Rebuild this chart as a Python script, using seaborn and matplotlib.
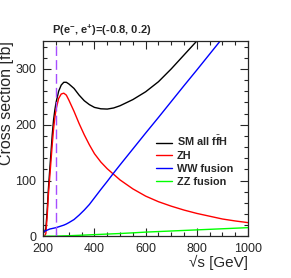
import matplotlib
matplotlib.use("Agg")
import matplotlib.pyplot as plt
import seaborn as sns
import pandas as pd
from matplotlib.ticker import MultipleLocator

sqrt_s = [200, 205, 210, 215, 220, 225, 230, 235, 240, 245, 250, 260, 270, 280, 290, 300,
          320, 340, 360, 380, 400, 425, 450, 475, 500, 550, 600, 650, 700, 750, 800,
          850, 900, 950, 1000]
sm_all = [7, 8, 14, 45, 85, 118, 150, 182, 208, 226, 240, 260, 271, 276, 276, 273,
          265, 253, 243, 236, 231, 228.5, 228, 230, 234, 245, 259, 277, 300, 325, 350,
          374, 398, 423, 448]
zh = [0, 0, 5, 35, 75, 105, 135, 165, 192, 212, 228, 247, 255, 256.5, 253, 244,
      224, 202, 182, 164, 148, 133, 121, 111, 101, 85, 72, 62, 54, 47, 41,
      36, 31, 27.5, 24.5]
ww = [8, 9, 10, 11, 12, 13, 13.5, 14, 14.5, 15, 15.5, 17, 18.5, 20, 22, 24.5,
      30, 38, 47, 57, 69, 84, 98.5, 113.5, 128, 156.5, 185, 213, 241.5, 270, 298,
      326.5, 355, 383, 411]
zz = [0, 0, 0.1, 0.1, 0.2, 0.2, 0.2, 0.3, 0.3, 0.3, 0.3, 0.5, 0.6, 0.8, 0.9, 1.0,
      1.4, 1.8, 2.2, 2.6, 3.0, 3.5, 4.0, 4.5, 5.0, 6.2, 7.5, 8.5, 9.5, 10.5, 11.5,
      12.5, 13.5, 14.5, 15.5]
labels = [r"SM all f$\bar{\mathbf{f}}$H", "ZH", "WW fusion", "ZZ fusion"]
colors = ["#000000", "#ff0000", "#0000ff", "#00ff00"]
series = [sm_all, zh, ww, zz]
ref_line = 250

sns.set_style("ticks")
plt.rcParams["font.family"] = ["Liberation Sans", "DejaVu Sans"]
plt.rcParams["mathtext.fontset"] = "custom"
plt.rcParams["mathtext.rm"] = "Liberation Sans"
plt.rcParams["mathtext.bf"] = "Liberation Sans:bold"

fig = plt.figure(figsize=(2.91, 2.78), dpi=100)
ax = fig.add_axes([43.3 / 291, 1 - 236.3 / 278, (248 - 43.3) / 291, (236.3 - 41) / 278])

for vals, lab, col in zip(series, labels, colors):
    df = pd.DataFrame({"x": sqrt_s, "y": vals})
    sns.lineplot(data=df, x="x", y="y", color=col, lw=1.0, label=lab, ax=ax, sort=True)

ax.axvline(ref_line, color="#a64dff", lw=1.0, ls=(0, (7, 3)))

ax.set_xlim(200, 1000)
ax.set_ylim(0, 350)
ax.xaxis.set_major_locator(MultipleLocator(200))
ax.xaxis.set_minor_locator(MultipleLocator(50))
ax.yaxis.set_major_locator(MultipleLocator(100))
ax.yaxis.set_minor_locator(MultipleLocator(20))
ax.tick_params(which="both", direction="in", top=True, right=True, labelsize=9, width=0.8)
ax.tick_params(which="major", length=6)
ax.tick_params(axis="x", which="major", pad=5)
ax.tick_params(axis="y", which="major", pad=5)
ax.tick_params(which="minor", length=3)
for s in ax.spines.values():
    s.set_linewidth(0.9)

ax.set_xlabel("\u221as [GeV]", fontsize=11, loc="right", labelpad=0)
ax.set_ylabel("Cross section [fb]", fontsize=11.5, loc="top", labelpad=1)

fig.text(52 / 291, 1 - 30 / 278, r"P(e$^{\mathbf{-}}$, e$^{\mathbf{+}}$)=(-0.8, 0.2)",
         fontsize=8, fontweight="bold", ha="left", va="center")

leg = ax.legend(loc="upper left", bbox_to_anchor=(0.53, 0.545), frameon=False,
                prop={"weight": "bold", "size": 7.8}, handlelength=1.5,
                handletextpad=0.4, labelspacing=0.27, borderaxespad=0)

fig.savefig("out.png", dpi=100)
